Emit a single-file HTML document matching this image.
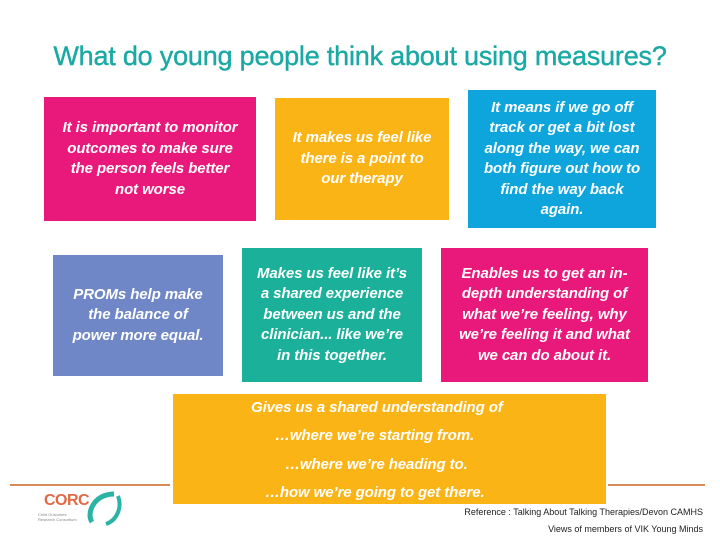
<!DOCTYPE html>
<html><head><meta charset="utf-8"><style>
body{margin:0;width:720px;height:540px;background:#fff;position:relative;overflow:hidden;font-family:"Liberation Sans",sans-serif}
.t{position:absolute;left:0;width:720px;top:41px;text-align:center;color:#1BA9A4;font-size:27px;letter-spacing:-0.2px;-webkit-text-stroke:0.4px #1BA9A4}
.b{position:absolute;display:flex;align-items:center;justify-content:center;text-align:center;color:#fff;font-weight:bold;font-style:italic;font-size:15px;line-height:20.5px;letter-spacing:-0.1px}
.ln{position:absolute;height:2px;background:#D98B55;top:484px}
.ref{position:absolute;right:17px;font-size:9px;color:#222;text-align:right}
</style></head><body>
<div class="t">What do young people think about using measures?</div>
<div class="b" style="left:44px;top:97px;width:212px;height:124px;background:#E8197A">It is important to monitor<br>outcomes to make sure<br>the person feels better<br>not worse</div>
<div class="b" style="left:275px;top:98px;width:174px;height:122px;background:#FBB415">It makes us feel like<br>there is a point to<br>our therapy</div>
<div class="b" style="left:468px;top:90px;width:188px;height:138px;background:#0EA5DC">It means if we go off<br>track or get a bit lost<br>along the way, we can<br>both figure out how to<br>find the way back<br>again.</div>
<div class="b" style="left:53px;top:255px;width:170px;height:121px;background:#6F87C6">PROMs help make<br>the balance of<br>power more equal.</div>
<div class="b" style="left:242px;top:248px;width:180px;height:134px;background:#1AB09A">Makes us feel like it’s<br>a shared experience<br>between us and the<br>clinician... like we’re<br>in this together.</div>
<div class="b" style="left:441px;top:248px;width:207px;height:134px;background:#E8197A">Enables us to get an in-<br>depth understanding of<br>what we’re feeling, why<br>we’re feeling it and what<br>we can do about it.</div>
<div class="ln" style="left:10px;width:160px"></div>
<div class="ln" style="left:608px;width:97px"></div>
<div class="b" style="left:173px;top:394px;width:433px;height:110px;background:#FBB415;display:block;text-align:left;font-size:15px;line-height:28.5px">
<div style="position:absolute;left:78px;top:0">Gives us a shared understanding of</div>
<div style="position:absolute;left:102px;top:28px">…where we’re starting from.</div>
<div style="position:absolute;left:112px;top:57px">…where we’re heading to.</div>
<div style="position:absolute;left:92px;top:85px">…how we’re going to get there.</div>
</div>
<div style="position:absolute;left:36px;top:488px;width:90px;height:40px">
<div style="position:absolute;left:8px;top:4px;font-weight:bold;font-size:16px;color:#E06A45;letter-spacing:-0.5px">CORC</div>
<div style="position:absolute;left:2px;top:24px;font-size:4px;color:#888;line-height:5px">Child Outcomes<br>Research Consortium</div>
<svg style="position:absolute;left:48px;top:0" width="40" height="40"><path d="M30 6 C10 6 2 25 8 34" stroke="#2BB3A6" stroke-width="5" fill="none"/><path d="M22 36 C34 32 38 18 34 8" stroke="#2BB3A6" stroke-width="4" fill="none"/></svg>
</div>
<div class="ref" style="top:507px">Reference : Talking About Talking Therapies/Devon CAMHS</div>
<div class="ref" style="top:524px">Views of members of VIK Young Minds</div>
</body></html>
